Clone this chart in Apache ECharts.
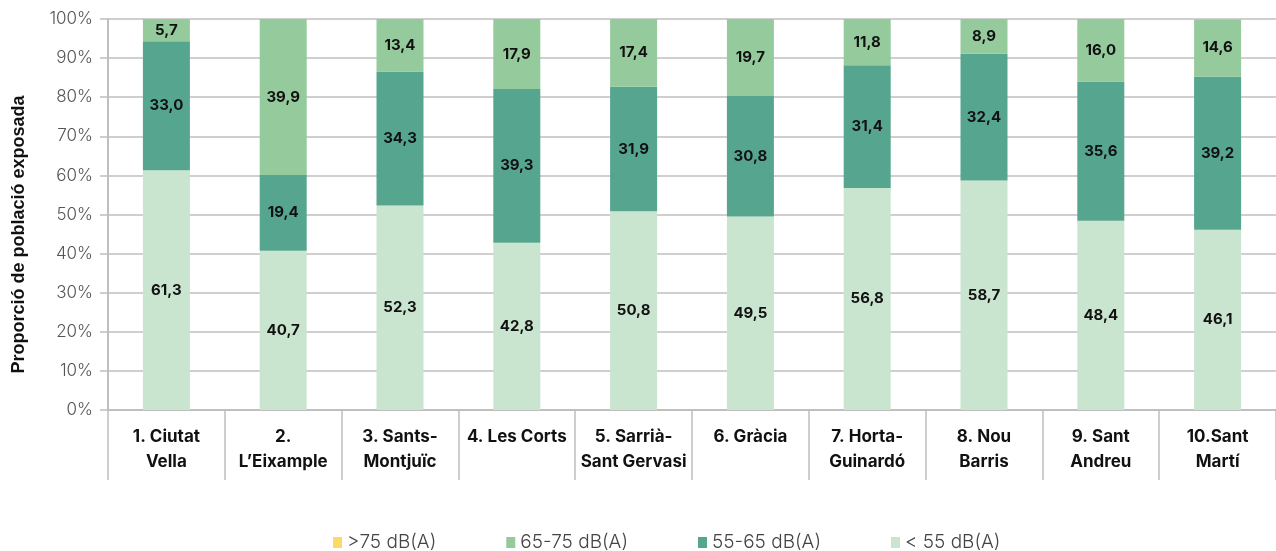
<!DOCTYPE html>
<html>
<head>
<meta charset="utf-8">
<script src="https://cdn.jsdelivr.net/npm/echarts@6/dist/echarts.min.js"></script>
<style>
  html, body { margin: 0; padding: 0; background: #fff; }
  #chart { width: 1276px; height: 551px; }
</style>
</head>
<body>
<div id="chart"></div>
<script>
var districts = ['1. Ciutat\nVella', '2.\nL\u2019Eixample', '3. Sants-\nMontjuïc', '4. Les Corts',
  '5. Sarrià-\nSant Gervasi', '6. Gràcia', '7. Horta-\nGuinardó', '8. Nou\nBarris',
  '9. Sant\nAndreu', '10.Sant\nMartí'];
var below55 = [61.3, 40.7, 52.3, 42.8, 50.8, 49.5, 56.8, 58.7, 48.4, 46.1];
var from55to65 = [33.0, 19.4, 34.3, 39.3, 31.9, 30.8, 31.4, 32.4, 35.6, 39.2];
var from65to75 = [5.7, 39.9, 13.4, 17.9, 17.4, 19.7, 11.8, 8.9, 16.0, 14.6];
var above75 = [0, 0, 0, 0, 0, 0, 0, 0, 0, 0];
var legendNames = ['>75 dB(A)', '65-75 dB(A)', '55-65 dB(A)', '< 55 dB(A)'];

var gridColor = '#bfbfbf';
var font = 'Inter';

function barLabel() {
  return {
    show: true,
    position: 'inside',
    fontFamily: font,
    fontWeight: 'bold',
    fontSize: 15,
    color: '#111',
    formatter: function (p) {
      if (!p.value) return '';
      return p.value.toFixed(1).replace('.', ',');
    }
  };
}

function makeSeries(name, data, color) {
  return {
    name: name,
    type: 'bar',
    stack: 'total',
    barWidth: 47,
    data: data,
    itemStyle: { color: color },
    label: barLabel()
  };
}

echarts.init(document.querySelector('#chart')).setOption({
  animation: false,
  grid: { left: 108, right: -12, top: 19, bottom: 141 },
  legend: {
    data: legendNames,
    left: 328,
    top: 528,
    itemWidth: 9,
    itemHeight: 11,
    itemGap: 70,
    icon: 'rect',
    textStyle: { fontFamily: font, fontSize: 19, color: '#444', fontWeight: 300 }
  },
  xAxis: {
    type: 'category',
    data: districts,
    axisLine: { lineStyle: { color: gridColor, width: 2 } },
    axisTick: { show: true, length: 70, lineStyle: { color: gridColor, width: 1.5 } },
    axisLabel: {
      interval: 0,
      margin: 14,
      fontFamily: font,
      fontWeight: 'bold',
      fontSize: 17,
      lineHeight: 25,
      color: '#111'
    }
  },
  yAxis: {
    type: 'value',
    min: 0,
    max: 100,
    interval: 10,
    name: 'Proporció de població exposada',
    nameLocation: 'middle',
    nameGap: 80,
    nameTextStyle: {
      fontFamily: 'Liberation Sans',
      fontWeight: 'bold',
      fontSize: 18,
      color: '#111',
      padding: [0, 40, 0, 0]
    },
    axisLine: { show: true, lineStyle: { color: gridColor, width: 2 } },
    axisTick: { show: true, length: 8, lineStyle: { color: gridColor, width: 1.5 } },
    splitLine: { lineStyle: { color: gridColor, width: 1.5 } },
    axisLabel: {
      margin: 15,
      fontFamily: font,
      fontWeight: 300,
      fontSize: 17,
      color: '#555',
      formatter: '{value}%'
    }
  },
  series: [
    makeSeries('< 55 dB(A)', below55, '#c9e4cf'),
    makeSeries('55-65 dB(A)', from55to65, '#56a58e'),
    makeSeries('65-75 dB(A)', from65to75, '#95cb9c'),
    makeSeries('>75 dB(A)', above75, '#ffd966')
  ]
});
</script>
</body>
</html>
